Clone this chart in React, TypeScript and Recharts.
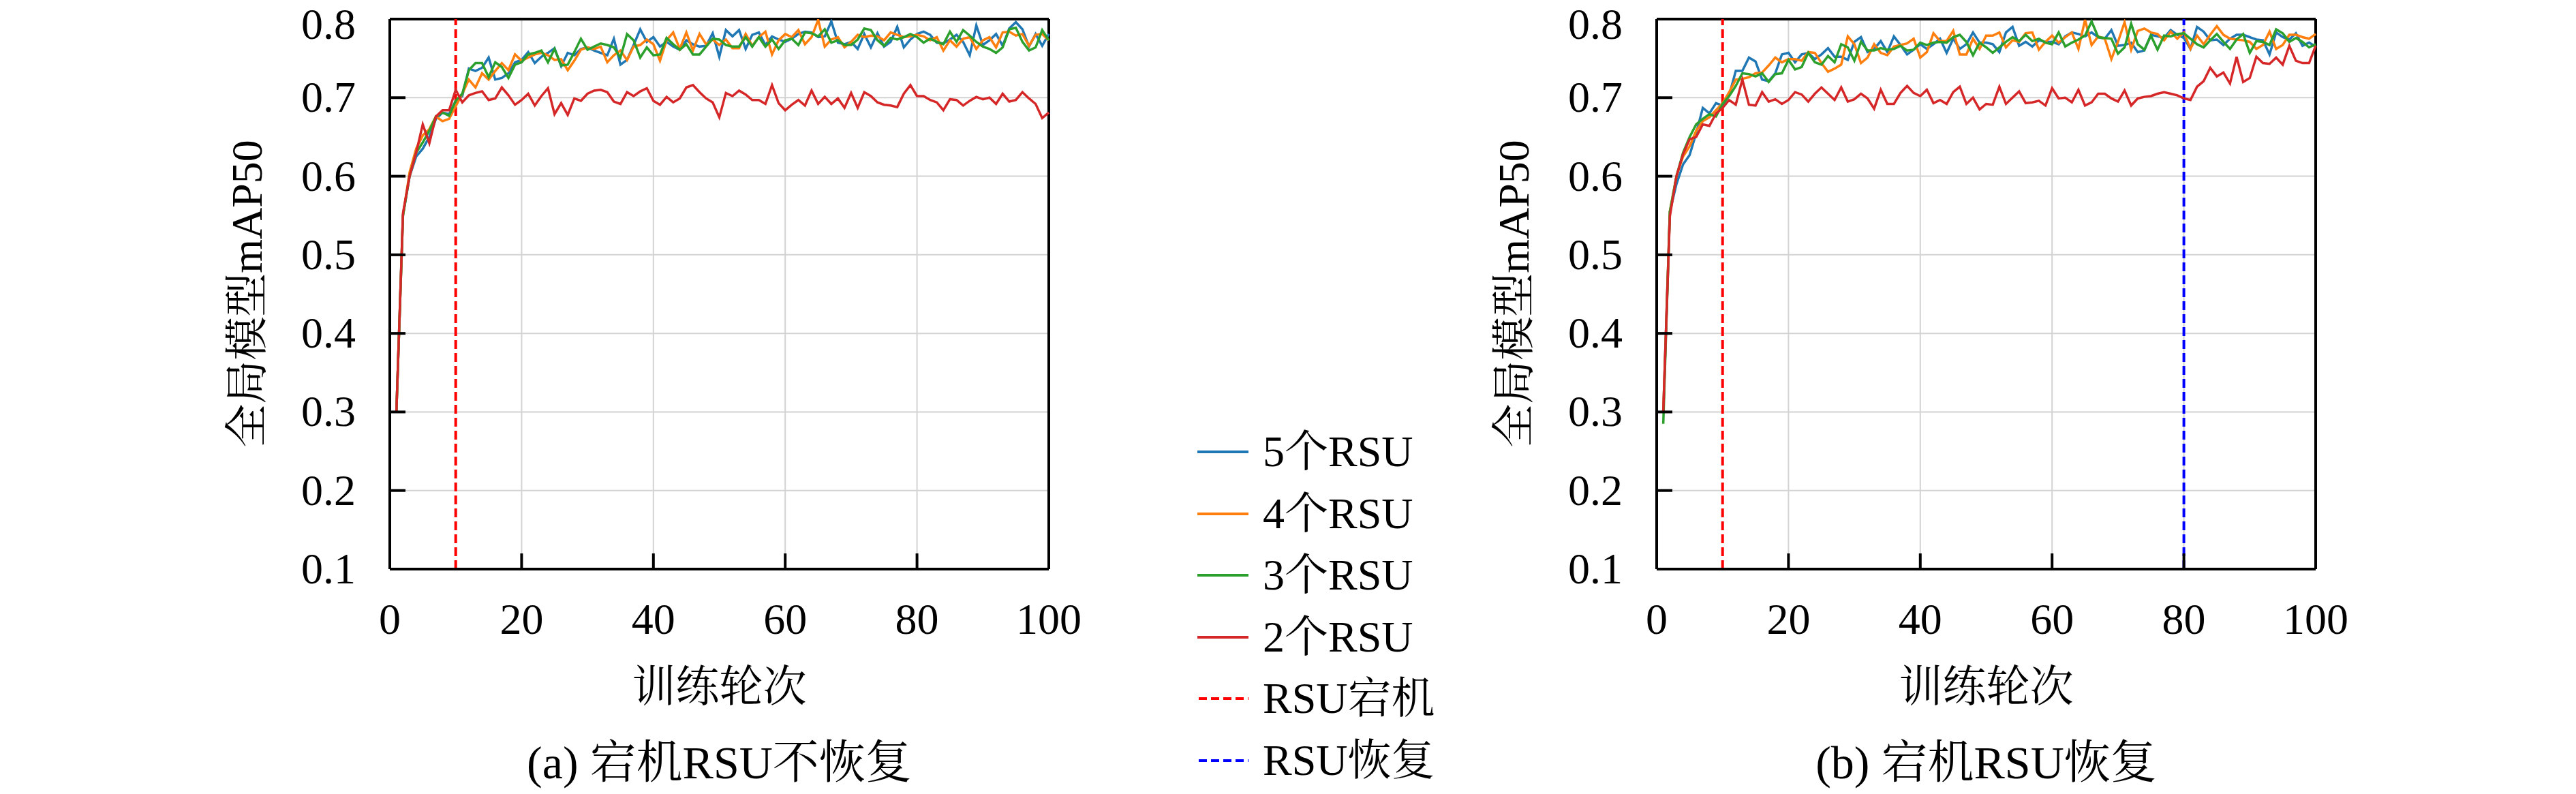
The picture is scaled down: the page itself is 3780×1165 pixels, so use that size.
import React from "react"
import { CartesianGrid, Line, LineChart, ReferenceLine, XAxis, YAxis } from "recharts"

// training epochs 1..100
const epochs = Array.from({ length: 100 }, (_, i) => i + 1)

// (a) failed RSU does not recover
const aRsu5 = [
  0.300, 0.550, 0.600, 0.625, 0.635, 0.650, 0.673, 0.681, 0.679, 0.696,
  0.702, 0.737, 0.734, 0.738, 0.751, 0.723, 0.725, 0.731, 0.745, 0.748,
  0.758, 0.744, 0.752, 0.757, 0.763, 0.740, 0.757, 0.754, 0.762, 0.764,
  0.760, 0.757, 0.754, 0.775, 0.742, 0.748, 0.767, 0.787, 0.771, 0.777,
  0.765, 0.771, 0.765, 0.761, 0.773, 0.768, 0.765, 0.766, 0.782, 0.752,
  0.786, 0.778, 0.786, 0.762, 0.780, 0.783, 0.767, 0.778, 0.774, 0.771,
  0.775, 0.781, 0.784, 0.783, 0.777, 0.778, 0.797, 0.770, 0.768, 0.771,
  0.762, 0.781, 0.764, 0.782, 0.765, 0.771, 0.790, 0.764, 0.774, 0.781,
  0.784, 0.780, 0.770, 0.769, 0.774, 0.780, 0.771, 0.754, 0.792, 0.767,
  0.773, 0.781, 0.766, 0.788, 0.796, 0.787, 0.765, 0.781, 0.766, 0.781,
]
const aRsu4 = [
  0.300, 0.550, 0.605, 0.635, 0.652, 0.660, 0.676, 0.670, 0.673, 0.689,
  0.705, 0.723, 0.713, 0.731, 0.723, 0.734, 0.744, 0.735, 0.755, 0.747,
  0.751, 0.755, 0.757, 0.754, 0.748, 0.749, 0.735, 0.747, 0.761, 0.764,
  0.762, 0.765, 0.745, 0.754, 0.760, 0.748, 0.765, 0.767, 0.774, 0.768,
  0.747, 0.773, 0.783, 0.762, 0.783, 0.760, 0.781, 0.768, 0.774, 0.767,
  0.774, 0.763, 0.763, 0.781, 0.766, 0.777, 0.784, 0.755, 0.773, 0.781,
  0.777, 0.786, 0.768, 0.777, 0.799, 0.765, 0.774, 0.777, 0.764, 0.771,
  0.780, 0.777, 0.779, 0.778, 0.773, 0.783, 0.780, 0.777, 0.778, 0.780,
  0.778, 0.773, 0.777, 0.760, 0.773, 0.765, 0.775, 0.777, 0.762, 0.773,
  0.777, 0.764, 0.783, 0.784, 0.779, 0.781, 0.766, 0.780, 0.781, 0.773,
]
const aRsu3 = [
  0.300, 0.550, 0.600, 0.630, 0.643, 0.658, 0.676, 0.681, 0.677, 0.696,
  0.705, 0.735, 0.744, 0.744, 0.726, 0.745, 0.739, 0.725, 0.742, 0.745,
  0.755, 0.757, 0.760, 0.745, 0.762, 0.741, 0.742, 0.758, 0.775, 0.761,
  0.765, 0.769, 0.767, 0.764, 0.751, 0.781, 0.773, 0.751, 0.764, 0.754,
  0.755, 0.776, 0.768, 0.761, 0.768, 0.755, 0.755, 0.765, 0.775, 0.774,
  0.767, 0.765, 0.765, 0.777, 0.765, 0.777, 0.765, 0.774, 0.762, 0.773,
  0.775, 0.767, 0.783, 0.782, 0.778, 0.787, 0.770, 0.773, 0.767, 0.767,
  0.774, 0.788, 0.786, 0.773, 0.766, 0.776, 0.774, 0.777, 0.781, 0.777,
  0.770, 0.775, 0.771, 0.768, 0.784, 0.771, 0.786, 0.779, 0.771, 0.765,
  0.762, 0.757, 0.764, 0.787, 0.789, 0.771, 0.760, 0.764, 0.786, 0.773,
]
const aRsu2 = [
  0.300, 0.553, 0.600, 0.630, 0.666, 0.642, 0.676, 0.684, 0.684, 0.710,
  0.694, 0.703, 0.706, 0.708, 0.697, 0.699, 0.713, 0.703, 0.691, 0.697,
  0.705, 0.690, 0.702, 0.712, 0.679, 0.693, 0.678, 0.699, 0.696, 0.705,
  0.709, 0.710, 0.707, 0.695, 0.692, 0.707, 0.702, 0.708, 0.712, 0.696,
  0.691, 0.701, 0.694, 0.699, 0.713, 0.716, 0.707, 0.699, 0.694, 0.675,
  0.706, 0.702, 0.709, 0.704, 0.697, 0.697, 0.692, 0.716, 0.693, 0.684,
  0.691, 0.697, 0.690, 0.709, 0.692, 0.701, 0.692, 0.699, 0.687, 0.706,
  0.687, 0.707, 0.702, 0.694, 0.691, 0.690, 0.688, 0.705, 0.716, 0.702,
  0.702, 0.697, 0.694, 0.684, 0.698, 0.697, 0.690, 0.696, 0.701, 0.698,
  0.700, 0.692, 0.705, 0.695, 0.697, 0.707, 0.699, 0.692, 0.674, 0.681,
]

// (b) failed RSU recovers at epoch 80
const bRsu5 = [
  0.300, 0.555, 0.590, 0.615, 0.627, 0.655, 0.687, 0.680, 0.693, 0.690,
  0.703, 0.734, 0.734, 0.751, 0.746, 0.723, 0.721, 0.731, 0.755, 0.757,
  0.745, 0.755, 0.757, 0.749, 0.755, 0.763, 0.752, 0.752, 0.748, 0.771,
  0.777, 0.758, 0.762, 0.772, 0.758, 0.778, 0.767, 0.755, 0.761, 0.768,
  0.762, 0.768, 0.775, 0.757, 0.775, 0.762, 0.768, 0.783, 0.770, 0.770,
  0.768, 0.758, 0.783, 0.790, 0.766, 0.771, 0.765, 0.773, 0.771, 0.771,
  0.768, 0.778, 0.783, 0.781, 0.778, 0.783, 0.777, 0.775, 0.786, 0.766,
  0.767, 0.770, 0.758, 0.760, 0.780, 0.778, 0.776, 0.786, 0.780, 0.776,
  0.762, 0.790, 0.784, 0.773, 0.774, 0.767, 0.775, 0.780, 0.780, 0.777,
  0.774, 0.773, 0.755, 0.783, 0.777, 0.774, 0.782, 0.766, 0.770, 0.765,
]
const bRsu4 = [
  0.300, 0.555, 0.600, 0.625, 0.638, 0.658, 0.670, 0.675, 0.684, 0.693,
  0.707, 0.723, 0.724, 0.726, 0.731, 0.732, 0.741, 0.751, 0.745, 0.749,
  0.749, 0.747, 0.758, 0.757, 0.744, 0.733, 0.737, 0.742, 0.778, 0.768,
  0.744, 0.751, 0.768, 0.757, 0.754, 0.765, 0.767, 0.769, 0.775, 0.751,
  0.758, 0.782, 0.772, 0.772, 0.785, 0.755, 0.755, 0.775, 0.762, 0.779,
  0.779, 0.783, 0.764, 0.773, 0.771, 0.782, 0.783, 0.761, 0.771, 0.779,
  0.770, 0.777, 0.783, 0.762, 0.799, 0.767, 0.778, 0.775, 0.749, 0.771,
  0.796, 0.761, 0.785, 0.788, 0.783, 0.781, 0.773, 0.784, 0.775, 0.783,
  0.762, 0.779, 0.768, 0.780, 0.791, 0.780, 0.775, 0.774, 0.773, 0.771,
  0.762, 0.767, 0.784, 0.762, 0.767, 0.780, 0.780, 0.777, 0.775, 0.781,
]
const bRsu3 = [
  0.285, 0.555, 0.600, 0.630, 0.650, 0.666, 0.673, 0.679, 0.676, 0.692,
  0.702, 0.715, 0.731, 0.730, 0.727, 0.731, 0.720, 0.730, 0.731, 0.748,
  0.736, 0.739, 0.757, 0.745, 0.742, 0.753, 0.745, 0.768, 0.764, 0.747,
  0.771, 0.760, 0.760, 0.763, 0.761, 0.762, 0.766, 0.760, 0.761, 0.770,
  0.767, 0.770, 0.771, 0.770, 0.777, 0.780, 0.771, 0.754, 0.770, 0.764,
  0.757, 0.764, 0.771, 0.777, 0.772, 0.780, 0.772, 0.775, 0.770, 0.768,
  0.783, 0.765, 0.770, 0.774, 0.779, 0.797, 0.777, 0.776, 0.775, 0.756,
  0.764, 0.794, 0.768, 0.761, 0.779, 0.761, 0.779, 0.778, 0.781, 0.782,
  0.775, 0.768, 0.764, 0.773, 0.781, 0.771, 0.762, 0.774, 0.781, 0.757,
  0.772, 0.771, 0.767, 0.787, 0.782, 0.771, 0.776, 0.771, 0.764, 0.768,
]
const bRsu2 = [
  0.300, 0.549, 0.600, 0.628, 0.647, 0.650, 0.666, 0.664, 0.680, 0.687,
  0.697, 0.691, 0.723, 0.691, 0.690, 0.707, 0.695, 0.698, 0.692, 0.697,
  0.707, 0.704, 0.695, 0.705, 0.713, 0.705, 0.697, 0.713, 0.695, 0.698,
  0.705, 0.699, 0.686, 0.710, 0.692, 0.692, 0.706, 0.715, 0.706, 0.702,
  0.710, 0.693, 0.697, 0.692, 0.707, 0.714, 0.692, 0.700, 0.685, 0.692,
  0.691, 0.714, 0.692, 0.700, 0.708, 0.693, 0.694, 0.696, 0.690, 0.712,
  0.699, 0.700, 0.694, 0.710, 0.690, 0.694, 0.705, 0.705, 0.699, 0.695,
  0.709, 0.690, 0.699, 0.701, 0.702, 0.705, 0.707, 0.705, 0.703, 0.699,
  0.697, 0.714, 0.721, 0.738, 0.727, 0.732, 0.718, 0.752, 0.720, 0.725,
  0.752, 0.744, 0.743, 0.751, 0.742, 0.766, 0.747, 0.744, 0.744, 0.766,
]

const xTicks = [0, 20, 40, 60, 80, 100]
const yTicks = [0.1, 0.2, 0.3, 0.4, 0.5, 0.6, 0.7, 0.8]

const seriesNames = ["5个RSU", "4个RSU", "3个RSU", "2个RSU"]
const seriesKeys = ["s5", "s4", "s3", "s2"]
const seriesColors = ["#1f77b4", "#ff7f0e", "#2ca02c", "#d62728"]

const FONT = "'Liberation Serif', 'Noto Serif CJK SC', 'Noto Sans CJK SC', serif"
const CHART_W = 1700
const CHART_H = 1165
const PLOT = { left: 572, right: 1539, top: 28, bottom: 835 }
const TICK_LEN = 23
const RIGHT_OFFSET = 1859

function buildRows(s5: number[], s4: number[], s3: number[], s2: number[]) {
  return epochs.map((epoch, i) => ({ epoch, s5: s5[i], s4: s4[i], s3: s3[i], s2: s2[i] }))
}

const dataA = buildRows(aRsu5, aRsu4, aRsu3, aRsu2)
const dataB = buildRows(bRsu5, bRsu4, bRsu3, bRsu2)

const YTick = ({ x, y, payload }: any) => {
  // the topmost label sits at the page edge, nudge it so its font box stays inside
  const nudge = y - PLOT.top < 5 ? 8 : 0
  return (
    <g>
      <line x1={x} y1={y} x2={x + TICK_LEN} y2={y} stroke="#000" strokeWidth={4} />
      <text x={x - 50} y={y} dy={21 + nudge} textAnchor="end" fontSize={64} fontFamily={FONT} fill="#000">
        {Number(payload.value).toFixed(1)}
      </text>
    </g>
  )
}

const XTick = ({ x, y, payload }: any) => (
  <g>
    <line x1={x} y1={y} x2={x} y2={y - TICK_LEN} stroke="#000" strokeWidth={4} />
    <text x={x} y={y + 95} textAnchor="middle" fontSize={64} fontFamily={FONT} fill="#000">
      {payload.value}
    </text>
  </g>
)

const plotCx = (PLOT.left + PLOT.right) / 2

const XLabel = () => (
  <text x={plotCx} y={1007} textAnchor="middle" dominantBaseline="central" fontSize={64} fontFamily={FONT} fill="#000">
    训练轮次
  </text>
)

const YLabel = () => (
  <text
    x={362}
    y={431}
    transform="rotate(-90, 362, 431)"
    textAnchor="middle"
    dominantBaseline="central"
    fontSize={64}
    fontFamily={FONT}
    fill="#000"
  >
    全局模型mAP50
  </text>
)

function Panel({ data, recovery }: { data: any[]; recovery: boolean }) {
  return (
    <LineChart
      width={CHART_W}
      height={CHART_H}
      data={data}
      margin={{ top: PLOT.top, right: CHART_W - PLOT.right, bottom: CHART_H - PLOT.bottom - 80, left: PLOT.left - 120 }}
    >
      <CartesianGrid stroke="#d3d3d3" strokeWidth={2} />
      <XAxis
        dataKey="epoch"
        type="number"
        domain={[0, 100]}
        ticks={xTicks}
        height={80}
        tickSize={0}
        tickMargin={0}
        tickLine={false}
        tick={<XTick />}
        axisLine={{ stroke: "#000", strokeWidth: 4 }}
        label={{ content: <XLabel /> }}
        interval={0}
      />
      <YAxis
        type="number"
        domain={[0.1, 0.8]}
        ticks={yTicks}
        width={120}
        tickSize={0}
        tickMargin={0}
        tickLine={false}
        tick={<YTick />}
        axisLine={{ stroke: "#000", strokeWidth: 4 }}
        label={{ content: <YLabel /> }}
        interval={0}
        allowDataOverflow
      />
      <ReferenceLine y={0.8} stroke="#000" strokeWidth={4} />
      <ReferenceLine x={100} stroke="#000" strokeWidth={4} />
      <ReferenceLine x={10} stroke="#ff0000" strokeWidth={4} strokeDasharray="13 6" />
      {recovery && <ReferenceLine x={80} stroke="#0000ff" strokeWidth={4} strokeDasharray="13 6" />}
      {seriesKeys.map((key, i) => (
        <Line
          key={key}
          dataKey={key}
          name={seriesNames[i]}
          type="linear"
          stroke={seriesColors[i]}
          strokeWidth={3.5}
          dot={false}
          isAnimationActive={false}
        />
      ))}
    </LineChart>
  )
}

const legendItems = [
  ...seriesNames.map((name, i) => ({ name, color: seriesColors[i], dashed: false })),
  { name: "RSU宕机", color: "#ff0000", dashed: true },
  { name: "RSU恢复", color: "#0000ff", dashed: true },
]

const textStyle: React.CSSProperties = {
  position: "absolute",
  fontFamily: FONT,
  fontSize: 64,
  color: "#000",
  whiteSpace: "nowrap",
  lineHeight: "80px",
}

export default function App() {
  return (
    <div style={{ position: "relative", width: 3780, height: 1165, background: "#fff", overflow: "hidden" }}>
      <style>{`body { margin: 0; }`}</style>
      <div style={{ position: "absolute", left: 0, top: 0 }}>
        <Panel data={dataA} recovery={false} />
      </div>
      <div style={{ position: "absolute", left: RIGHT_OFFSET, top: 0 }}>
        <Panel data={dataB} recovery />
      </div>

      {legendItems.map((item, i) => (
        <div key={item.name} style={{ ...textStyle, left: 1757, top: 663 - 40 + 90.6 * i, height: 80 }}>
          <svg width={75} height={80} style={{ position: "absolute", left: 0, top: 0 }}>
            <line
              x1={item.dashed ? 2 : 0}
              y1={40}
              x2={75}
              y2={40}
              stroke={item.color}
              strokeWidth={4}
              strokeDasharray={item.dashed ? "12 6" : undefined}
            />
          </svg>
          <span style={{ position: "absolute", left: 96, top: 0 }}>{item.name}</span>
        </div>
      ))}

      <div style={{ ...textStyle, fontSize: 68, left: plotCx, top: 1119 - 40, transform: "translateX(-50%)" }}>
        (a) 宕机RSU不恢复
      </div>
      <div style={{ ...textStyle, fontSize: 68, left: plotCx + RIGHT_OFFSET, top: 1119 - 40, transform: "translateX(-50%)" }}>
        (b) 宕机RSU恢复
      </div>
    </div>
  )
}
